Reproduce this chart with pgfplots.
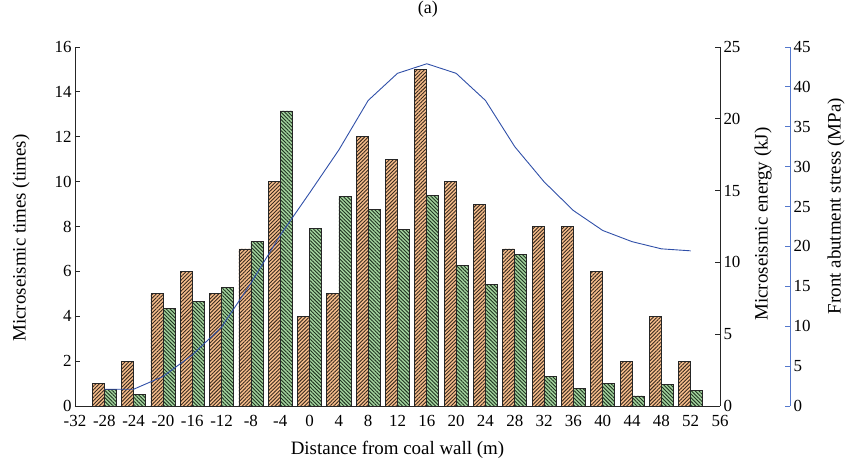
\documentclass[border=0pt]{standalone}
\usepackage{pgfplots}
\pgfplotsset{compat=1.18}
\usepackage{fontspec}
\setmainfont{Liberation Serif}
\usetikzlibrary{patterns.meta}
\definecolor{orfill}{HTML}{F6BE8C}
\definecolor{orline}{HTML}{3A2A1E}
\definecolor{grfill}{HTML}{A3D49E}
\definecolor{grline}{HTML}{1F3320}
\definecolor{stressblue}{HTML}{2F4FA8}
\definecolor{axisblue}{HTML}{5578CC}

\pgfplotstableread{
x times energy stress
-28 1 1.16 2.1
-24 2 0.79 2.1
-20 5 6.77 3.7
-16 6 7.26 6.4
-12 5 8.26 9.9
-8 7 11.48 15.4
-4 10 20.55 21.4
0 4 12.37 26.7
4 5 14.59 32.1
8 12 13.66 38.3
12 11 12.27 41.7
16 15 14.69 42.9
20 10 9.77 41.7
24 9 8.47 38.3
28 7 10.56 32.5
32 8 2.06 28.1
36 8 1.21 24.5
40 6 1.60 22.0
44 2 0.70 20.6
48 4 1.51 19.7
52 2 1.11 19.45
}\datatable

\newcommand{\labfont}{\fontsize{19}{22}\selectfont}
\pgfplotsset{
  base/.style={
    scale only axis, width=645bp, height=359bp,
    xmin=-32, xmax=56,
    /pgf/number format/assume math mode=true,
    tick label style={font=\fontsize{17}{20}\selectfont, inner ysep=0.5bp},
    axis line style={black!85, line width=0.8pt},
    tick style={black!85, line width=0.8pt},
    major tick length=5bp,
    tick align=inside,
  }
}

\begin{document}
\begin{tikzpicture}
\useasboundingbox (-75bp,-59bp) rectangle (772bp,406bp);

% Axis 1: microseismic times (left)
\begin{axis}[base,
  axis x line*=bottom, axis y line*=left,
  ymin=0, ymax=16, ytick={0,2,...,16},
  xtick={-32,-28,...,56}, xtick style={draw=none},
  xticklabel style={yshift=-9bp},
  xlabel={Distance from coal wall (m)},
  ylabel={Microseismic times (times)},
  every axis x label/.style={at={(axis description cs:0.5,-0.122)}, anchor=center, font=\labfont},
  every axis y label/.style={at={(axis description cs:-0.0837,0.468)}, anchor=center, rotate=90, font=\labfont},
  title={(a)},
  title style={at={(axis description cs:0.547,1.089)}, anchor=center, font=\fontsize{18}{20}\selectfont},
]
\addplot[ybar, bar width=1.64, bar shift=-0.82, fill=orfill, draw=black!85, line width=0.7pt,
  postaction={pattern={Lines[angle=45,distance=2.6pt,line width=0.9pt]}, pattern color=orline}]
  table[x=x, y=times] {\datatable};
\end{axis}

% Axis 2: microseismic energy (right)
\begin{axis}[base,
  axis x line=none, axis y line*=right,
  ymin=0, ymax=25, ytick={0,5,...,25},
  ylabel={Microseismic energy (kJ)},
  every axis y label/.style={at={(axis description cs:1.0667,0.507)}, anchor=center, rotate=90, font=\labfont},
]
\addplot[ybar, bar width=1.64, bar shift=0.82, fill=grfill, draw=black!85, line width=0.7pt,
  postaction={pattern={Lines[angle=-45,distance=2.6pt,line width=0.9pt]}, pattern color=grline}]
  table[x=x, y=energy] {\datatable};
\end{axis}

% Axis 3: stress line
\begin{axis}[base, hide axis, ymin=0, ymax=45]
\addplot[stressblue, line width=0.9pt, mark=none] table[x=x, y=stress] {\datatable};
\end{axis}

% Axis 4: stress scale (offset)
\begin{axis}[base, at={(70bp,0)},
  axis x line=none, axis y line*=right,
  ymin=0, ymax=45, ytick={0,5,...,45},
  axis line style={axisblue, line width=0.8pt},
  tick style={axisblue, line width=0.8pt},
  ylabel={Front abutment stress (MPa)},
  every axis y label/.style={at={(axis description cs:1.0713,0.557)}, anchor=center, rotate=90, font=\labfont},
]
\addplot[draw=none, forget plot] coordinates {(0,0)};
\end{axis}
\end{tikzpicture}
\end{document}
